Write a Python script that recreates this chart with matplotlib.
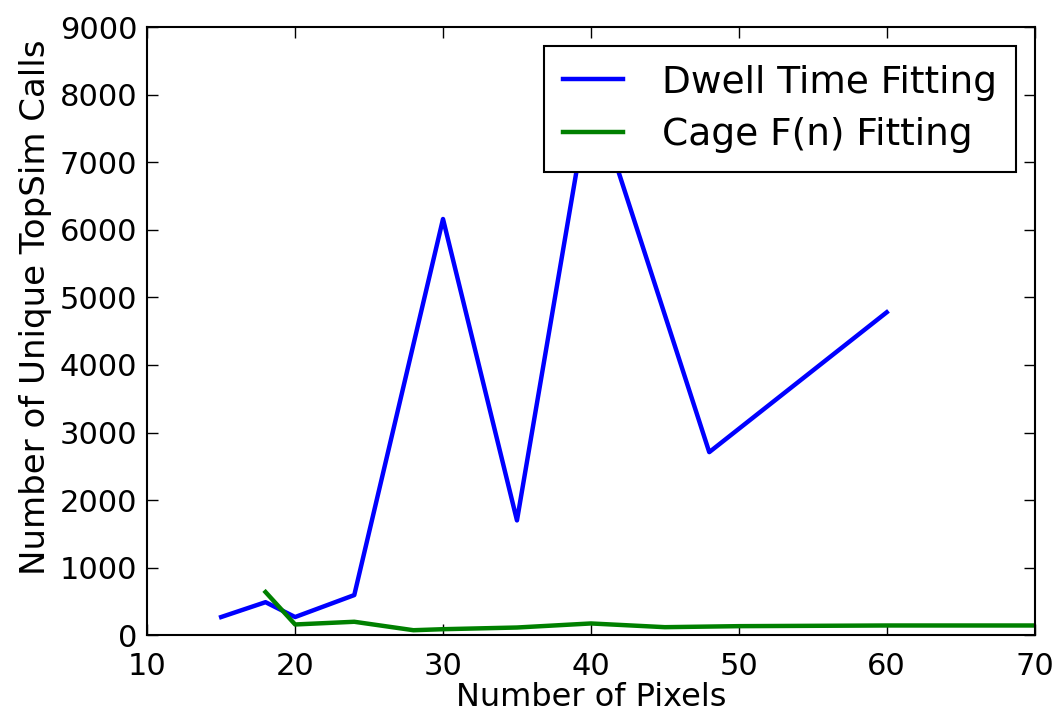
import matplotlib
matplotlib.use('Agg')
from matplotlib import pyplot as plt

# data
dwell_x = [15, 18, 20, 24, 30, 35, 40, 48, 60]
dwell_y = [270, 490, 270, 595, 6160, 1700, 8120, 2710, 4780]

cage_x = [18, 20, 24, 28, 30, 35, 40, 45, 50, 60, 70]
cage_y = [640, 160, 200, 75, 90, 115, 175, 120, 135, 145, 145]

xticks = [10, 20, 30, 40, 50, 60, 70]
yticks = [0, 1000, 2000, 3000, 4000, 5000, 6000, 7000, 8000, 9000]

plt.rcParams['font.family'] = ['DejaVu Sans']

fig = plt.figure(figsize=(10.59, 7.13), dpi=100)
ax = fig.add_axes([0.139, 0.109, 0.838, 0.853])

ax.plot(dwell_x, dwell_y, color='#0000ff', lw=3.2, label='Dwell Time Fitting')
ax.plot(cage_x, cage_y, color='#008000', lw=3.2, label='Cage F(n) Fitting')

ax.set_xlim(10, 70)
ax.set_ylim(0, 9000)
ax.set_xticks(xticks)
ax.set_yticks(yticks)
ax.tick_params(direction='in', top=True, right=True, length=8, width=1, labelsize=22)
ax.tick_params(axis='x', pad=12)
ax.tick_params(axis='y', pad=7)
for s in ax.spines.values():
    s.set_linewidth(1.5)

ax.set_xlabel('Number of Pixels', fontsize=23, labelpad=1)
ax.set_ylabel('Number of Unique TopSim Calls', fontsize=24.5, labelpad=6)
ax.yaxis.label.set_y(0.54)  # label sits a bit above centre in the original

leg = ax.legend(loc='upper right', fontsize=27, fancybox=False, framealpha=1,
                edgecolor='black', handlelength=1.6, borderpad=0.5, labelspacing=0.45,
                handletextpad=1.05, borderaxespad=0.5)
leg.get_frame().set_linewidth(1.5)

fig.savefig('out.png', dpi=100, facecolor='white')
